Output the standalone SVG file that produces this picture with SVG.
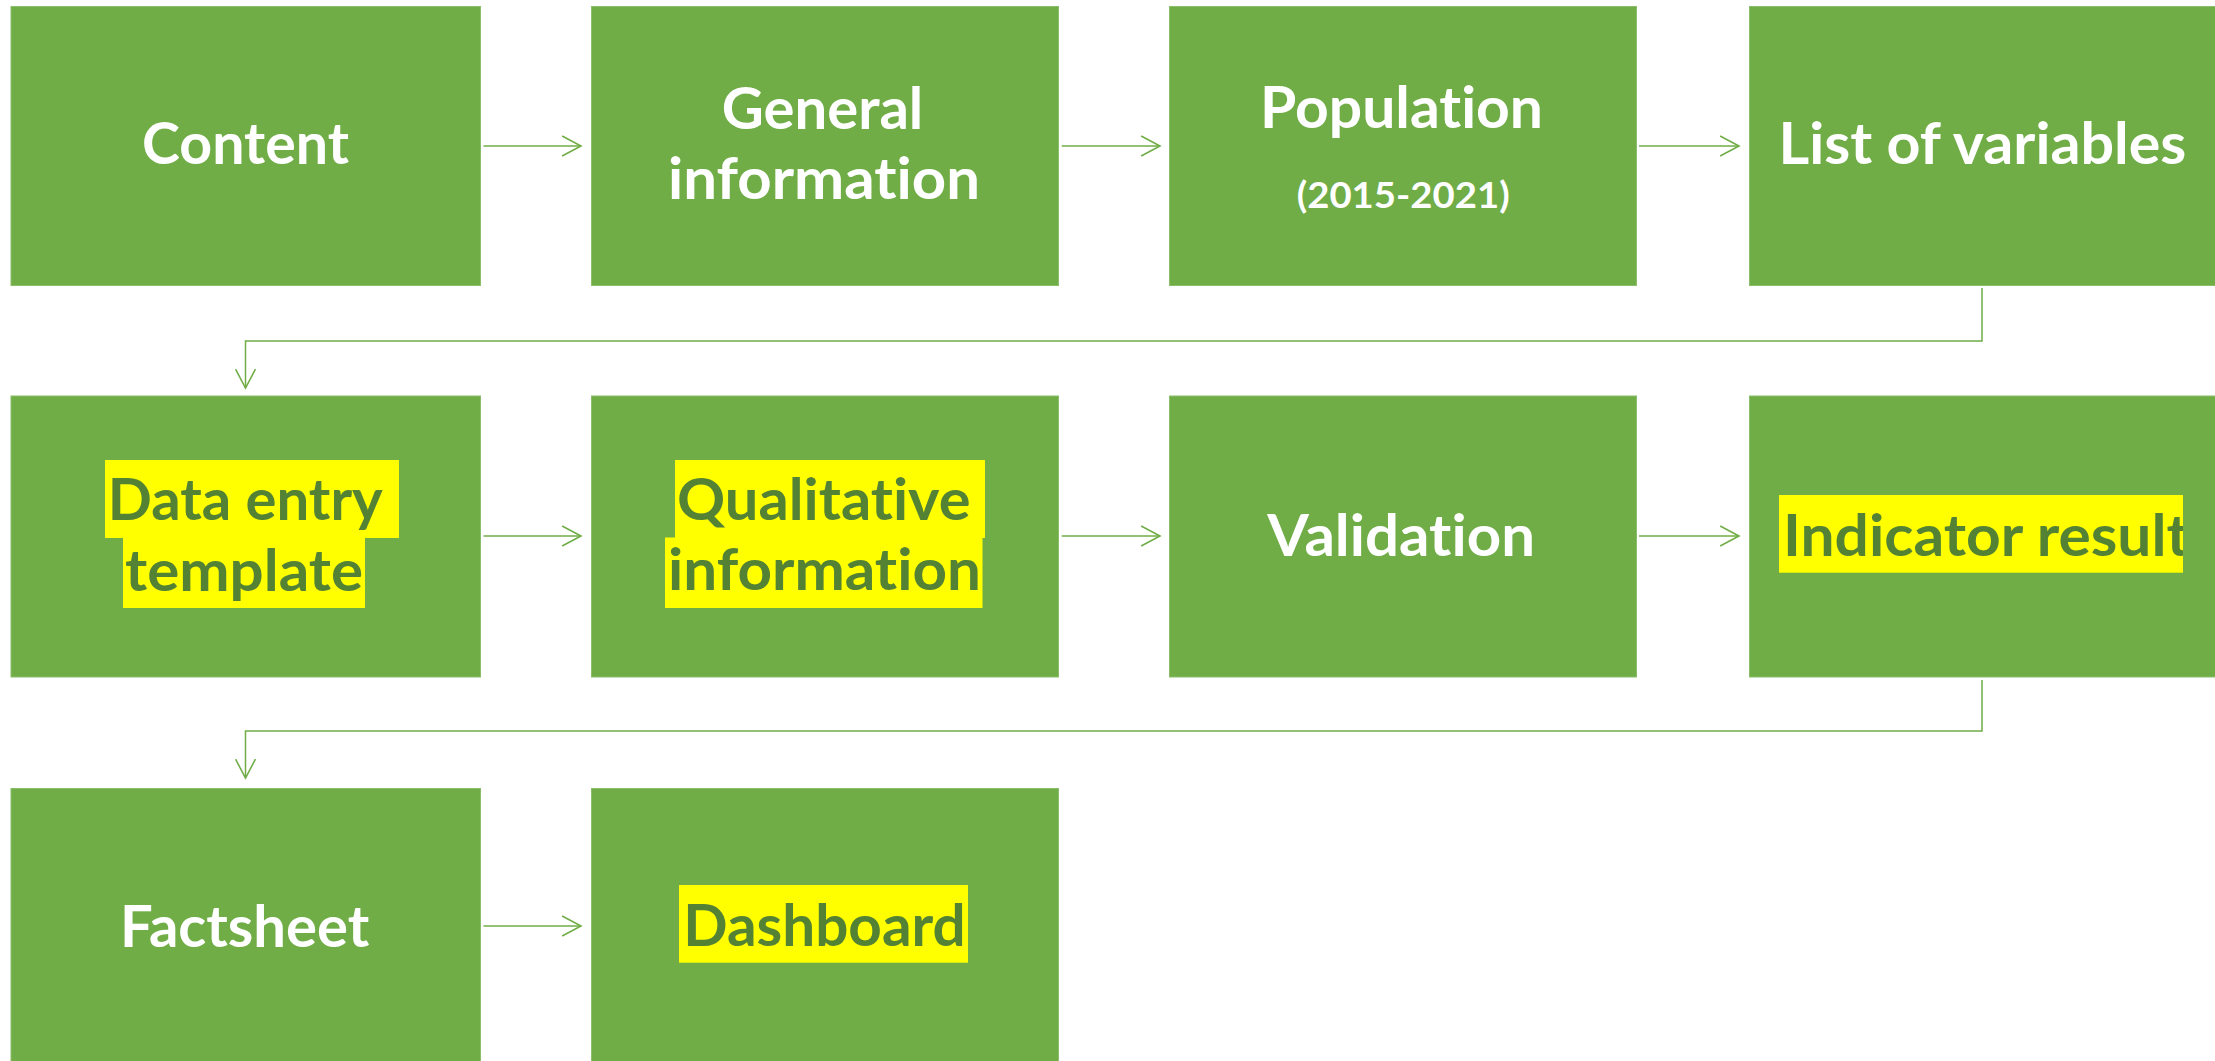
<svg xmlns="http://www.w3.org/2000/svg" width="2215" height="1061" viewBox="0 0 2215 1061">
  <style>
    .box { fill: #70AD47; stroke: #8ABE6B; stroke-width: 1; }
    .hl { fill: #FFFF00; }
    .t { font-family: Lato, "Open Sans", "Liberation Sans", sans-serif; font-weight: bold; font-size: 58px; fill: #FFFFFF; font-variant-ligatures: none; font-feature-settings: "liga" 0, "clig" 0; }
    .d { fill: #548235; }
    .s { font-size: 36px; }
    .c { fill: none; stroke: #70AD47; stroke-width: 1.5; }
  </style>
  <defs>
    <marker id="arr" markerUnits="userSpaceOnUse" markerWidth="22" markerHeight="22" refX="18" refY="9.5" orient="auto" viewBox="-1 -1 21 21">
      <path d="M0,0 L18,9.5 L0,19" fill="none" stroke="#70AD47" stroke-width="1.5"/>
    </marker>
    <clipPath id="clipInd">
      <rect x="1749" y="396" width="434" height="281"/>
    </clipPath>
  </defs>
  <rect width="2215" height="1061" fill="#FFFFFF"/>

  <g id="connectors">
    <path class="c" d="M483.5,146 H581" marker-end="url(#arr)"/>
    <path class="c" d="M1061.7,146 H1160" marker-end="url(#arr)"/>
    <path class="c" d="M1639,146 H1739" marker-end="url(#arr)"/>
    <path class="c" d="M1982,288 V341 H245.5 V388" marker-end="url(#arr)"/>
    <path class="c" d="M483.5,536 H581" marker-end="url(#arr)"/>
    <path class="c" d="M1061.7,536 H1160" marker-end="url(#arr)"/>
    <path class="c" d="M1639,536 H1739" marker-end="url(#arr)"/>
    <path class="c" d="M1982,680 V731 H245.5 V778" marker-end="url(#arr)"/>
    <path class="c" d="M483.5,926 H581" marker-end="url(#arr)"/>
  </g>

  <g id="node-content">
    <rect class="box" x="11" y="6.5" width="469.5" height="279"/>
    <text class="t" x="142" y="164" textLength="207" lengthAdjust="spacingAndGlyphs">Content</text>
  </g>
  <g id="node-general-information">
    <rect class="box" x="591.5" y="6.5" width="467" height="279"/>
    <text class="t" x="721.7" y="129" textLength="201.6" lengthAdjust="spacingAndGlyphs">General</text>
    <text class="t" x="668" y="199.3" textLength="312" lengthAdjust="spacingAndGlyphs">information</text>
  </g>
  <g id="node-population">
    <rect class="box" x="1169.5" y="6.5" width="467" height="279"/>
    <text class="t" x="1260" y="127.7" textLength="283" lengthAdjust="spacingAndGlyphs">Population</text>
    <text class="t s" x="1296.7" y="208" textLength="213" lengthAdjust="spacingAndGlyphs">(2015-2021)</text>
  </g>
  <g id="node-list-of-variables">
    <rect class="box" x="1749.5" y="6.5" width="467" height="279"/>
    <text class="t" x="1778.4" y="164" textLength="408" lengthAdjust="spacingAndGlyphs">List of variables</text>
  </g>

  <g id="node-data-entry-template">
    <rect class="box" x="11" y="396" width="469.5" height="281"/>
    <rect class="hl" x="105" y="460" width="294" height="78"/>
    <rect class="hl" x="123" y="537.5" width="242" height="70.5"/>
    <text class="t d" x="107.7" y="520" textLength="275" lengthAdjust="spacingAndGlyphs">Data entry</text>
    <text class="t d" x="125" y="591" textLength="238" lengthAdjust="spacingAndGlyphs">template</text>
  </g>
  <g id="node-qualitative-information">
    <rect class="box" x="591.5" y="396" width="467" height="281"/>
    <rect class="hl" x="675" y="460" width="310" height="78"/>
    <rect class="hl" x="665" y="537.5" width="317.5" height="70.5"/>
    <text class="t d" x="677" y="520" textLength="293.5" lengthAdjust="spacingAndGlyphs">Qualitative</text>
    <text class="t d" x="668" y="590" textLength="313" lengthAdjust="spacingAndGlyphs">information</text>
  </g>
  <g id="node-validation">
    <rect class="box" x="1169.5" y="396" width="467" height="281"/>
    <text class="t" x="1267.3" y="555.7" textLength="267.7" lengthAdjust="spacingAndGlyphs">Validation</text>
  </g>
  <g id="node-indicator-result">
    <rect class="box" x="1749.5" y="396" width="467" height="281"/>
    <rect class="hl" x="1779" y="495" width="404" height="77.7"/>
    <text class="t d" x="1783" y="555.7" textLength="406" lengthAdjust="spacingAndGlyphs" clip-path="url(#clipInd)">Indicator result</text>
  </g>

  <g id="node-factsheet">
    <rect class="box" x="11" y="788.5" width="469.5" height="280"/>
    <text class="t" x="120" y="946.7" textLength="249.3" lengthAdjust="spacingAndGlyphs">Factsheet</text>
  </g>
  <g id="node-dashboard">
    <rect class="box" x="591.5" y="788.5" width="467" height="280"/>
    <rect class="hl" x="679" y="885" width="289" height="77.7"/>
    <text class="t d" x="683.3" y="945.7" textLength="282.4" lengthAdjust="spacingAndGlyphs">Dashboard</text>
  </g>
</svg>
